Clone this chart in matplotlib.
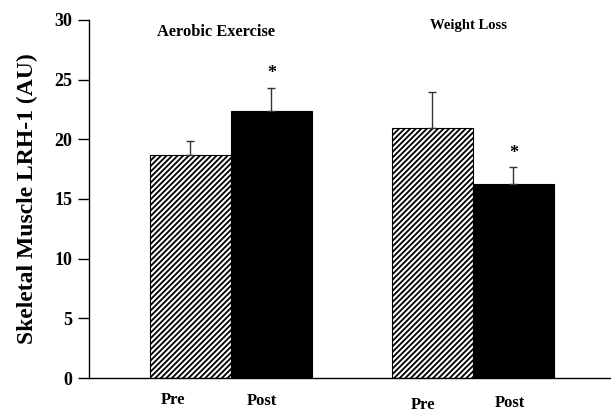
import numpy as np
import matplotlib.pyplot as plt

plt.rcParams['font.family'] = ['Liberation Serif', 'DejaVu Serif']
plt.rcParams['font.weight'] = 'bold'
plt.rcParams['hatch.linewidth'] = 1.3

groups = ['Aerobic Exercise', 'Weight Loss']
conditions = ['Pre', 'Post']
pre_vals = [18.7, 20.95]
pre_err = [1.2, 3.0]
post_vals = [22.35, 16.25]
post_err = [1.95, 1.4]
post_sig = ['*', '*']

fig = plt.figure(figsize=(6.11, 4.12), dpi=100)
ax = fig.add_axes([0.1457, 0.0825, 0.8543, 0.869])

centers = np.array([1.75, 4.74])
w = 1.0
ekw = dict(ecolor='#333333', elinewidth=1.0, capsize=3, capthick=1.0)

ax.bar(centers - w/2, pre_vals, w, color='white', edgecolor='black',
       hatch='//////', linewidth=0.8,
       yerr=[np.zeros(2), pre_err], error_kw=ekw, zorder=2)
ax.bar(centers + w/2, post_vals, w, color='black', edgecolor='black',
       linewidth=0.8,
       yerr=[np.zeros(2), post_err], error_kw=ekw, zorder=2)

# significance stars over the post bars
for x, v, e, s in zip(centers + w/2, post_vals, post_err, post_sig):
    ax.text(x, v + e + 1.2, s, ha='center', va='center', fontsize=13)

# group titles
ax.text(1.57, 29.0, groups[0], ha='center', va='center', fontsize=11.8)
ax.text(4.68, 29.5, groups[1], ha='center', va='center', fontsize=10.5)

# condition labels under the bars
label_pos = [(1.04, -1.85), (2.14, -1.95), (4.12, -2.25), (5.19, -2.1)]
for (x, y), lab in zip(label_pos, conditions * 2):
    ax.text(x, y, lab, ha='center', va='center', fontsize=12, clip_on=False)

ax.set_xlim(0, 6.444)
ax.set_ylim(0, 30)
ax.set_yticks(np.arange(0, 31, 5))
ax.set_xticks([])
ax.tick_params(axis='y', direction='out', length=8, width=1, labelsize=13, pad=4)
for lab in ax.get_yticklabels():
    lab.set_fontweight('bold')
ax.spines['top'].set_visible(False)
ax.spines['right'].set_visible(False)
ax.spines['left'].set_linewidth(1)
ax.spines['bottom'].set_linewidth(1)
ax.set_ylabel('Skeletal Muscle LRH-1 (AU)', fontsize=17, fontweight='bold', labelpad=12)

fig.savefig('out.png', dpi=100)
